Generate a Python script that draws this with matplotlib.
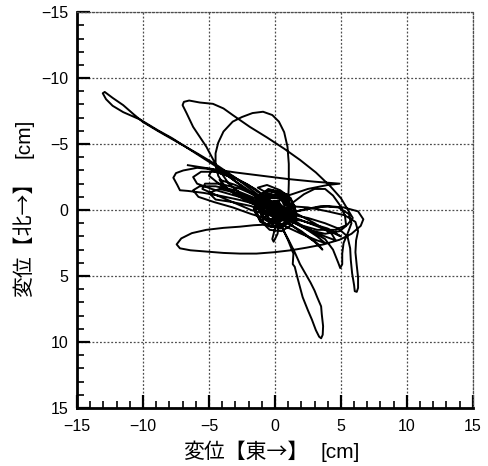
import matplotlib
matplotlib.use("Agg")
import matplotlib.pyplot as plt
from matplotlib.ticker import MultipleLocator

plt.rcParams['font.family'] = ['Liberation Sans', 'Noto Sans CJK JP']

# displacement orbit, east (x) / north (y) in cm, traced in recording order
east_start = [-6.6, -5.0, -3.0, -1.0, 1.0, 3.0, 4.9, 4.0, 2.5, 1.0, 0.0,
              0.4, 0.1, -0.4, 0.3, 0.8, 0.2]
north_start = [-3.4, -3.15, -2.85, -2.6, -2.35, -2.15, -2.0, -1.9, -1.6, -1.1, -0.5,
               -0.3, 0.4, 0.1, 0.2, 0.6, 0.1]

# out to the far north-west tip and back through the middle
east_tip = [-0.8, -2.0, -3.3, -4.6, -6.4, -7.8, -8.9, -10.2, -11.5, -12.3, -12.8, -13.05,
            -12.9, -12.3, -11.5, -10.7, -10.0, -8.8, -7.4, -5.9, -4.4, -3.0, -1.6, -0.3,
            1.0, 2.4, 3.8, 4.4, 4.8, 4.95, 5.1, 5.1, 5.2, 5.5, 5.8, 5.6, 4.8, 3.5, 2.0,
            0.8, -0.5, -1.2]
north_tip = [-0.6, -1.4, -2.4, -3.4, -4.55, -5.45, -6.06, -6.85, -7.42, -7.9, -8.4, -8.85,
             -8.95, -8.5, -7.95, -7.25, -6.67, -5.95, -5.15, -4.3, -3.4, -2.45, -1.4, -0.4,
             0.5, 1.4, 2.2, 3.0, 4.0, 4.4, 4.1, 3.3, 2.5, 1.8, 1.0, 0.3, -0.2, -0.3, 0.0,
             0.3, 0.2, -0.2]

# upper loop around (-7, -8)
east_top = [-2.3, -3.5, -4.4, -5.2, -5.8, -6.2, -6.7, -7.0, -6.9, -6.5, -5.7, -4.7,
            -3.9, -3.2, -1.9, -0.6, 0.7, 1.9, 3.1, 4.2, 5.0, 5.6, 5.9, 5.5, 4.6, 3.2,
            1.8, 0.6, -0.3]
north_top = [-1.0, -2.0, -3.3, -4.8, -5.7, -6.3, -7.35, -7.95, -8.2, -8.3, -8.15, -8.05,
             -7.7, -7.2, -6.3, -5.5, -4.65, -3.8, -2.85, -1.8, -0.9, 0.1, 0.6, 1.1, 1.5,
             1.5, 1.1, 0.5, 0.0]

# arch above the origin
east_arch = [0.5, 0.9, 1.0, 1.05, 1.05, 0.95, 0.7, 0.3, -0.2, -0.9, -1.7, -2.5, -3.2,
             -3.9, -4.3, -4.5, -4.5, -4.3, -3.8, -3.0, -2.0, -1.0]
north_arch = [0.6, 0.8, -0.5, -2.0, -3.5, -4.8, -5.9, -6.7, -7.2, -7.45, -7.35, -7.05,
              -6.7, -5.95, -5.1, -4.3, -3.5, -2.6, -1.8, -1.2, -0.7, -0.3]

# loop to the west at about y = -2.5
east_west = [-0.5, -2.0, -3.5, -4.8, -5.9, -6.95, -7.5, -7.7, -7.4, -7.2, -6.6, -5.4,
             -4.0, -2.6, -1.3, 0.0, 1.3, 2.6, 3.9, 5.0]
north_west = [-0.8, -1.9, -2.7, -3.1, -3.2, -3.0, -2.8, -2.45, -1.9, -1.5, -1.45, -1.3,
              -1.05, -0.75, -0.4, 0.0, 0.5, 1.0, 1.5, 2.0]

# loop to the south-west, swinging back east
east_sw = [4.0, 2.0, 0.3, -0.6, -1.6, -2.65, -3.9, -5.2, -6.3, -7.1, -7.45, -7.2, -6.4,
           -5.2, -3.9, -2.65, -1.4, -0.1, 1.2, 2.4, 3.7, 4.9, 5.8, 6.5, 6.7, 6.3, 5.2,
           4.0, 2.6, 1.2, 0.0]
north_sw = [1.4, 0.8, 0.6, 1.1, 1.15, 1.26, 1.35, 1.5, 1.75, 2.15, 2.6, 2.9, 3.05, 3.15,
            3.25, 3.3, 3.3, 3.2, 3.05, 2.85, 2.6, 2.25, 1.8, 1.2, 0.7, 0.1, -0.2, -0.3,
            -0.1, 0.2, 0.3]

# long southern loop
east_south = [0.5, 1.0, 1.4, 1.35, 1.5, 1.7, 2.1, 2.5, 2.8, 3.1, 3.35, 3.5, 3.62, 3.65,
              3.55, 3.5, 3.2, 3.0, 2.7, 2.3, 1.9, 1.5, 1.0, 0.4, -0.2]
north_south = [1.2, 2.3, 3.3, 4.1, 4.3, 5.1, 6.6, 7.6, 8.3, 9.1, 9.6, 9.72, 9.45, 8.8,
               7.9, 7.3, 6.6, 6.1, 5.5, 4.8, 4.1, 3.2, 2.2, 1.1, 0.2]

# narrow loop to the south-east
east_se = [1.0, 2.5, 3.8, 4.8, 5.5, 5.7, 5.75, 5.85, 6.0, 6.05, 6.2, 6.3, 6.3, 6.2,
           6.1, 6.15, 6.3, 6.1, 5.3, 4.0, 2.5, 1.0]
north_se = [0.3, 0.6, 1.0, 1.4, 2.0, 2.9, 3.8, 4.8, 5.7, 6.15, 6.2, 5.9, 5.1, 4.2, 3.2,
            2.3, 1.6, 0.9, 0.4, 0.1, -0.2, -0.3]

# eastern loops
east_east = [2.2, 3.0, 3.8, 4.4, 4.9, 5.3, 5.4, 4.9, 3.8, 2.5, 1.3, 0.2,
             -1.5, -3.0, -4.5, -5.7, -6.2, -5.8, -4.6, -3.2, -1.8, -0.5, 0.7, 2.0,
             3.2, 3.8, 3.2, 2.0, 0.8]
north_east = [-1.2, -1.6, -1.6, -1.1, -0.4, 0.4, 1.2, 1.6, 1.8, 1.5, 0.9, 0.2,
              -0.9, -1.5, -1.8, -1.8, -1.5, -1.0, -0.6, -0.2, 0.3, 0.7, 1.2, 1.8,
              2.3, 2.5, 2.0, 1.2, 0.5]

# swings along the NW-SE band
east_band = [-2.0, -3.6, -4.8, -5.0, -4.0, -2.4, -0.8, 0.8, 2.4, 3.8, 4.6, 4.3, 3.0,
             1.5, 0.0, -1.5, -3.0, -4.2, -3.8, -2.5, -1.0, 0.5, 2.0, 3.3, 3.6, 3.0,
             1.6, 0.3]
north_band = [-1.5, -2.6, -3.0, -2.6, -1.8, -1.0, -0.2, 0.6, 1.4, 2.0, 2.3, 1.8, 1.0,
              0.2, -0.5, -1.2, -1.9, -2.3, -1.7, -0.9, -0.1, 0.7, 1.6, 2.6, 3.0, 2.4,
              1.4, 0.5]

# western ovals between y = -3 and y = 0
east_oval = [0.2, -1.5, -3.0, -4.5, -5.6, -6.2, -5.9, -4.8, -3.4, -2.0, -0.6, 0.6,
             1.6, 1.0, -0.8, -2.6, -4.2, -5.3, -5.5, -4.6, -3.2, -1.8, -0.4]
north_oval = [-0.3, -1.6, -2.4, -2.9, -2.9, -2.5, -2.0, -1.6, -1.2, -0.8, -0.3, 0.2,
              0.5, 0.2, -0.8, -1.6, -2.0, -2.0, -1.6, -1.2, -0.6, 0.0, 0.4]

# smaller swings, then the settling motion near the origin
east_late = [-0.8, -2.5, -4.2, -5.0, -4.5, -3.2, -1.8, -0.4, 0.3, 0.2, -0.1, -0.2,
             0.0, 0.3, 0.2, -0.6, -1.1, -0.4, 0.6, 1.2, 0.8, -0.1, -0.9, -1.3, -0.8,
             0.2, 1.0, 1.3, 0.7, -0.3, -1.1, -1.5, -1.0, 0.0, 0.9, 1.4, 1.0, 0.0,
             -0.8, -1.2, -0.5, 0.5, 0.9, 0.4, -0.4, -0.9, -0.5, 0.3, 0.6, 0.1, -0.5,
             -0.6, 0.0, 0.5, 0.3, -0.3, -0.4, 0.1, 0.3, 0.0, -0.2, 0.0]
north_late = [-0.4, -1.2, -1.6, -1.3, -0.8, -0.6, -0.3, 0.3, 1.0, 1.8, 2.4, 2.2,
              1.4, 0.6, 0.2, -0.5, -1.2, -1.5, -1.0, -0.2, 0.7, 1.0, 0.6, -0.2, -0.9,
              -1.2, -0.6, 0.3, 1.1, 1.3, 0.8, -0.1, -1.0, -1.4, -1.0, 0.0, 0.9, 1.2,
              0.7, -0.4, -1.1, -0.8, 0.1, 0.8, 0.7, -0.1, -0.7, -0.6, 0.2, 0.6, 0.3,
              -0.4, -0.7, -0.2, 0.4, 0.4, -0.2, -0.4, 0.0, 0.2, 0.0, -0.1]

east_end = [0.3, 1.1, 0.6, -0.5, -1.4, -1.5, -0.7, 0.4, 1.3, 1.5, 0.9, -0.2, -1.2,
            -1.6, -1.1, 0.0, 1.0, 1.2, 0.5, -0.6, -1.2, -1.0, -0.2, 0.7, 1.0, 0.4,
            -0.5, -0.9, -0.5, 0.4, 0.7, 0.2, -0.5, -0.6, 0.0, 0.5, 0.3, -0.3, -0.4,
            0.1, 0.3, -0.1, -0.8, -1.3, -0.6, 0.4, 1.2, 1.6, 1.3, 0.5, -0.4, -1.0,
            -0.5, 0.2]
north_end = [0.5, -0.3, -1.3, -1.6, -0.9, 0.2, 1.1, 1.4, 0.8, -0.3, -1.2, -1.5, -1.1,
             -0.1, 0.9, 1.3, 0.9, -0.1, -1.0, -1.2, -0.5, 0.5, 1.0, 0.7, -0.2, -0.9,
             -0.9, -0.1, 0.7, 0.6, -0.1, -0.7, -0.5, 0.2, 0.6, 0.2, -0.4, -0.4, 0.2,
             0.4, 0.0, -0.2, -1.4, -1.7, -1.9, -1.5, -0.9, 0.1, 1.1, 1.6, 1.5, 0.9,
             0.1, -0.3]

east = (east_start + east_tip + east_top + east_arch + east_west + east_sw
        + east_south + east_se + east_east + east_band + east_oval + east_late
        + east_end)
north = (north_start + north_tip + north_top + north_arch + north_west + north_sw
         + north_south + north_se + north_east + north_band + north_oval + north_late
         + north_end)

fig = plt.figure(figsize=(4.89, 4.66), dpi=100)
ax = fig.add_axes([0.1575, 0.1245, 0.8095, 0.8495])

ax.plot(east, north, color='black', lw=1.4, solid_joinstyle='round')

ax.set_xlim(-15, 15)
ax.set_ylim(15, -15)
ax.xaxis.set_major_locator(MultipleLocator(5))
ax.yaxis.set_major_locator(MultipleLocator(5))
ax.xaxis.set_minor_locator(MultipleLocator(1))
ax.yaxis.set_minor_locator(MultipleLocator(1))

ax.grid(True, which='major', color='0.3', lw=0.9, linestyle=(0, (1.5, 1.5)))
ax.set_axisbelow(True)
for side in ['top', 'right']:
    ax.spines[side].set_color('0.3')
    ax.spines[side].set_linewidth(0.9)
    ax.spines[side].set_linestyle((0, (1.5, 1.5)))
for side in ['left', 'bottom']:
    ax.spines[side].set_linewidth(2.0)

ax.tick_params(which='major', direction='in', length=9.5, width=1.6, labelsize=11.5)
ax.tick_params(which='minor', direction='in', length=5, width=1.2)
ax.tick_params(top=False, right=False, which='both')
ax.tick_params(axis='x', which='major', pad=8)
ax.tick_params(axis='y', which='major', pad=6)

# axis titles: Japanese part in the CJK font, unit in the Latin font
cjk = ['Noto Sans CJK JP']
fig.text(308 / 489, 1 - 452 / 466, '変位【東→】', family=cjk, fontsize=15,
         ha='right', va='center')
fig.text(321 / 489, 1 - 452 / 466, '[cm]', fontsize=15, ha='left', va='center')
fig.text(24 / 489, 1 - 297 / 466, '変位【北→】', family=cjk, fontsize=15,
         rotation=90, ha='center', va='bottom')
fig.text(24 / 489, 1 - 158 / 466, '[cm]', fontsize=15, rotation=90,
         ha='center', va='bottom')

fig.savefig('out.png', dpi=100)
